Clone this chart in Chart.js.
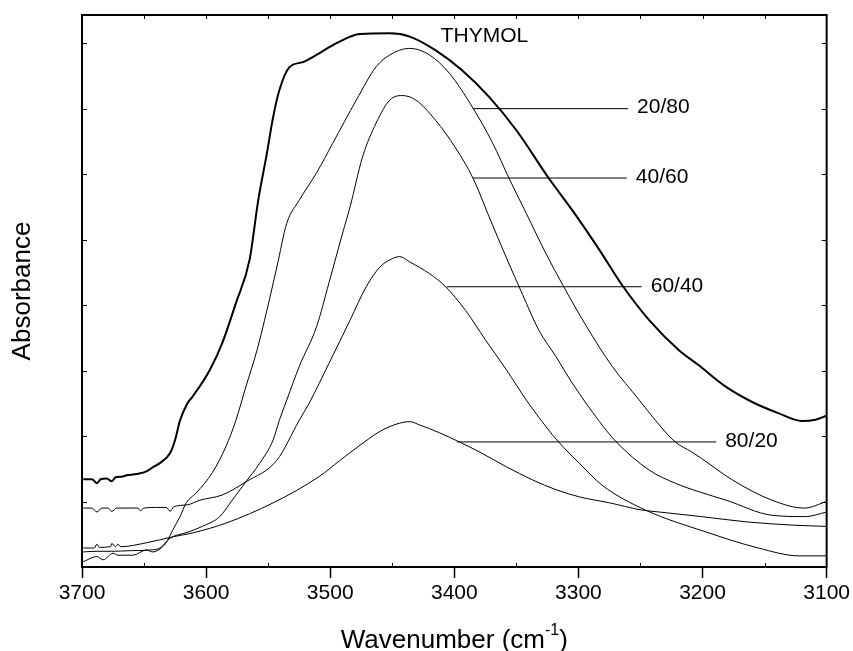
<!DOCTYPE html>
<html>
<head>
<meta charset="utf-8">
<title>Thymol OH band</title>
<script src="https://cdn.jsdelivr.net/npm/chart.js@4.4.0/dist/chart.umd.min.js"></script>
<style>
    html, body { margin: 0; padding: 0; background: #fff; }
    #wrap { position: relative; width: 853px; height: 651px; }
</style>
</head>
<body>
<div id="wrap"><canvas id="ch-ftir"></canvas></div>
<script>
// ============================================================
// FTIR, O-H stretching region: thymol and its blends
// ============================================================

// ── Spectra (wavenumber cm-1 / absorbance a.u.) ──────────────────────────
const thymolWn  = [3699, 3692, 3688, 3685, 3680, 3676, 3673, 3668, 3664, 3656, 3648, 3643, 3637, 3629, 3625,
    3621, 3615, 3611, 3597, 3587, 3576, 3565, 3558, 3551, 3546, 3541, 3533, 3522, 3511, 3495, 3476, 3452, 3436,
    3415, 3394, 3372, 3350, 3324, 3305, 3283, 3265, 3243, 3219, 3203, 3181, 3160, 3139, 3120, 3109, 3100];
const thymolAbs = [0.134, 0.134, 0.128, 0.134, 0.135, 0.131, 0.137, 0.138, 0.140, 0.142, 0.146, 0.152, 0.159, 0.174, 0.194,
    0.224, 0.250, 0.260, 0.301, 0.342, 0.403, 0.469, 0.560, 0.632, 0.687, 0.728, 0.763, 0.771, 0.782, 0.800, 0.814, 0.815, 0.810,
    0.789, 0.759, 0.718, 0.667, 0.594, 0.545, 0.484, 0.431, 0.377, 0.331, 0.308, 0.275, 0.252, 0.235, 0.223, 0.225, 0.231];

const wn2080  = [3699, 3688, 3683, 3675, 3671, 3659, 3648, 3643, 3635, 3631, 3627, 3621, 3616, 3608, 3595, 3584,
    3576, 3568, 3559, 3551, 3543, 3535, 3525, 3511, 3498, 3479, 3463, 3452, 3436, 3420, 3404, 3385, 3369, 3356,
    3342, 3326, 3313, 3294, 3273, 3251, 3238, 3222, 3209, 3201, 3176, 3144, 3118, 3100];
const abs2080 = [0.008, 0.016, 0.011, 0.021, 0.018, 0.018, 0.026, 0.023, 0.031, 0.041, 0.056, 0.077, 0.098, 0.113, 0.144, 0.184,
    0.224, 0.275, 0.331, 0.392, 0.458, 0.525, 0.560, 0.602, 0.647, 0.713, 0.764, 0.782, 0.792, 0.782, 0.754, 0.701, 0.647, 0.594,
    0.540, 0.478, 0.432, 0.369, 0.307, 0.255, 0.224, 0.191, 0.176, 0.166, 0.133, 0.102, 0.090, 0.100];

const wn4060  = [3699, 3688, 3676, 3660, 3645, 3637, 3629, 3615, 3603, 3589, 3579, 3568, 3557, 3546, 3541, 3535,
    3525, 3511, 3501, 3490, 3484, 3474, 3463, 3452, 3442, 3431, 3415, 3399, 3385, 3372, 3358, 3345, 3332,
    3318, 3305, 3283, 3270, 3243, 3222, 3203, 3181, 3144, 3117, 3100];
const abs4060 = [0.023, 0.024, 0.024, 0.025, 0.026, 0.029, 0.044, 0.053, 0.062, 0.077, 0.102, 0.130, 0.158, 0.194, 0.224, 0.255,
    0.306, 0.367, 0.434, 0.510, 0.550, 0.626, 0.678, 0.713, 0.720, 0.713, 0.682, 0.640, 0.594, 0.535, 0.472, 0.416, 0.362,
    0.321, 0.281, 0.222, 0.192, 0.148, 0.128, 0.115, 0.102, 0.079, 0.077, 0.084];

const wn6040  = [3699, 3692, 3688, 3684, 3679, 3676, 3672, 3660, 3655, 3653, 3650, 3640, 3632, 3629, 3626, 3615,
    3605, 3587, 3568, 3543, 3525, 3517, 3501, 3484, 3471, 3460, 3452, 3444, 3436, 3420, 3407, 3391, 3375, 3358,
    3342, 3326, 3316, 3299, 3281, 3246, 3198, 3155, 3122, 3100];
const abs6040 = [0.090, 0.090, 0.084, 0.090, 0.090, 0.085, 0.090, 0.090, 0.090, 0.086, 0.090, 0.091, 0.091, 0.085, 0.092, 0.095,
    0.102, 0.110, 0.130, 0.163, 0.224, 0.250, 0.311, 0.377, 0.428, 0.458, 0.469, 0.474, 0.466, 0.448, 0.428, 0.392, 0.347, 0.301,
    0.255, 0.214, 0.191, 0.158, 0.125, 0.087, 0.054, 0.029, 0.017, 0.017];

const wn8020  = [3699, 3690, 3688, 3686, 3677, 3676, 3673, 3671, 3669, 3648, 3627, 3611, 3584, 3546, 3509, 3492,
    3476, 3460, 3447, 3436, 3428, 3412, 3396, 3380, 3358, 3337, 3318, 3299, 3275, 3249, 3235, 3201, 3165, 3128, 3100];
const abs8020 = [0.029, 0.029, 0.035, 0.030, 0.031, 0.036, 0.031, 0.035, 0.031, 0.037, 0.046, 0.052, 0.067, 0.098, 0.138, 0.163,
    0.186, 0.207, 0.218, 0.222, 0.217, 0.205, 0.191, 0.176, 0.153, 0.133, 0.118, 0.107, 0.098, 0.087, 0.084, 0.077, 0.069, 0.064, 0.062];

// ── Leader lines + labels ─────────────────────────────────────────────────
const annotLabels = ['20/80', '40/60', '60/40', '80/20'];
const annotFrom   = [3385, 3385, 3406, 3398];
const annotTo     = [3260, 3261, 3249, 3189];
const annotY      = [0.700, 0.594, 0.428, 0.191];

const thymolLabel   = 'THYMOL';
const thymolLabelWn = 3411;
const thymolLabelY  = 0.811;

const xTitle = 'Wavenumber (cm';
const xTitleSup = '-1';
const yTitle = 'Absorbance';

// ── Helpers ───────────────────────────────────────────────────────────────
const FONT = '"Liberation Sans", Arial, Helvetica, sans-serif';
const pts  = (xs, ys) => xs.map((x, i) => ({ x, y: ys[i] }));

const curve = (label, xs, ys, width) => ({
    label, data: pts(xs, ys),
    borderColor: '#000', borderWidth: width,
    pointRadius: 0, fill: false, cubicInterpolationMode: 'monotone',
});

const leaders = annotLabels.map((l, i) => ({
    label: 'lead ' + l,
    data: [{ x: annotFrom[i], y: annotY[i] }, { x: annotTo[i], y: annotY[i] }],
    borderColor: '#000', borderWidth: 1, pointRadius: 0, tension: 0,
}));

// ── Frame, inward ticks, labels and x title ───────────────────────────────
const framePlugin = {
    id: 'frame',
    afterDraw(chart) {
        const { ctx, chartArea: a, scales: { x, y } } = chart;
        ctx.save();
        ctx.strokeStyle = '#000';
        ctx.lineWidth = 2;
        ctx.strokeRect(a.left, a.top, a.right - a.left, a.bottom - a.top);

        ctx.lineWidth = 1;
        ctx.beginPath();
        for (let v = x.min + 50; v < x.max; v += 50) {
            const px = Math.round(x.getPixelForValue(v)) + 0.5;
            ctx.moveTo(px, a.top); ctx.lineTo(px, a.top + 4);
            if (v % 100) { ctx.moveTo(px, a.bottom); ctx.lineTo(px, a.bottom - 4); }
        }
        y.ticks.forEach(t => {
            if (t.value <= y.min || t.value >= y.max) return;
            const py = Math.round(y.getPixelForValue(t.value)) + 0.5;
            ctx.moveTo(a.left, py);  ctx.lineTo(a.left + 5, py);
            ctx.moveTo(a.right, py); ctx.lineTo(a.right - 5, py);
        });
        ctx.stroke();

        ctx.fillStyle = '#000';
        ctx.textAlign = 'left';
        ctx.textBaseline = 'middle';
        ctx.font = `21px ${FONT}`;
        annotLabels.forEach((l, i) => {
            ctx.fillText(l, x.getPixelForValue(annotTo[i]) + 9, y.getPixelForValue(annotY[i]) - 1);
        });
        ctx.fillText(thymolLabel, x.getPixelForValue(thymolLabelWn), y.getPixelForValue(thymolLabelY));

        // x title with superscript
        ctx.textBaseline = 'alphabetic';
        const big = `26px ${FONT}`, small = `16px ${FONT}`;
        ctx.font = big;   const w1 = ctx.measureText(xTitle).width, w3 = ctx.measureText(')').width;
        ctx.font = small; const w2 = ctx.measureText(xTitleSup).width;
        let tx = (a.left + a.right) / 2 - (w1 + w2 + w3) / 2;
        const base = chart.height - 3;
        ctx.font = big;   ctx.fillText(xTitle, tx, base); tx += w1;
        ctx.font = small; ctx.fillText(xTitleSup, tx, base - 13); tx += w2;
        ctx.font = big;   ctx.fillText(')', tx, base);
        ctx.restore();
    },
};

// ── Chart ────────────────────────────────────────────────────────────────
new Chart(document.getElementById('ch-ftir').getContext('2d'), {
    type: 'line',
    data: {
        datasets: [
            curve('THYMOL', thymolWn, thymolAbs, 2),
            curve('20/80', wn2080, abs2080, 1),
            curve('40/60', wn4060, abs4060, 1),
            curve('60/40', wn6040, abs6040, 1),
            curve('80/20', wn8020, abs8020, 1),
            ...leaders,
        ],
    },
    options: {
        responsive: true, maintainAspectRatio: false, animation: false,
        layout: { padding: { top: 15, right: 24, left: 0, bottom: 0 } },
        plugins: { legend: { display: false }, tooltip: { enabled: false } },
        scales: {
            x: {
                type: 'linear', reverse: true, min: 3100, max: 3700,
                ticks: {
                    stepSize: 100, autoSkip: false, maxRotation: 0, padding: 3,
                    color: '#000', font: { family: FONT, size: 21 },
                    callback: v => String(v),
                },
                grid:   { drawOnChartArea: false, color: '#000', tickLength: 11, tickWidth: 1.5 },
                border: { color: '#000', width: 2 },
                afterFit: s => { s.height = 84; },
            },
            y: {
                min: 0, max: 0.843,
                ticks:  { display: false, stepSize: 0.1 },
                grid:   { display: false },
                border: { color: '#000', width: 2 },
                title:  {
                    display: true, text: yTitle, color: '#000',
                    font: { family: FONT, size: 26 }, padding: { top: 7, bottom: 0 },
                },
                afterFit: s => { s.width = 82; },
            },
        },
    },
    plugins: [framePlugin],
});
</script>
</body>
</html>
